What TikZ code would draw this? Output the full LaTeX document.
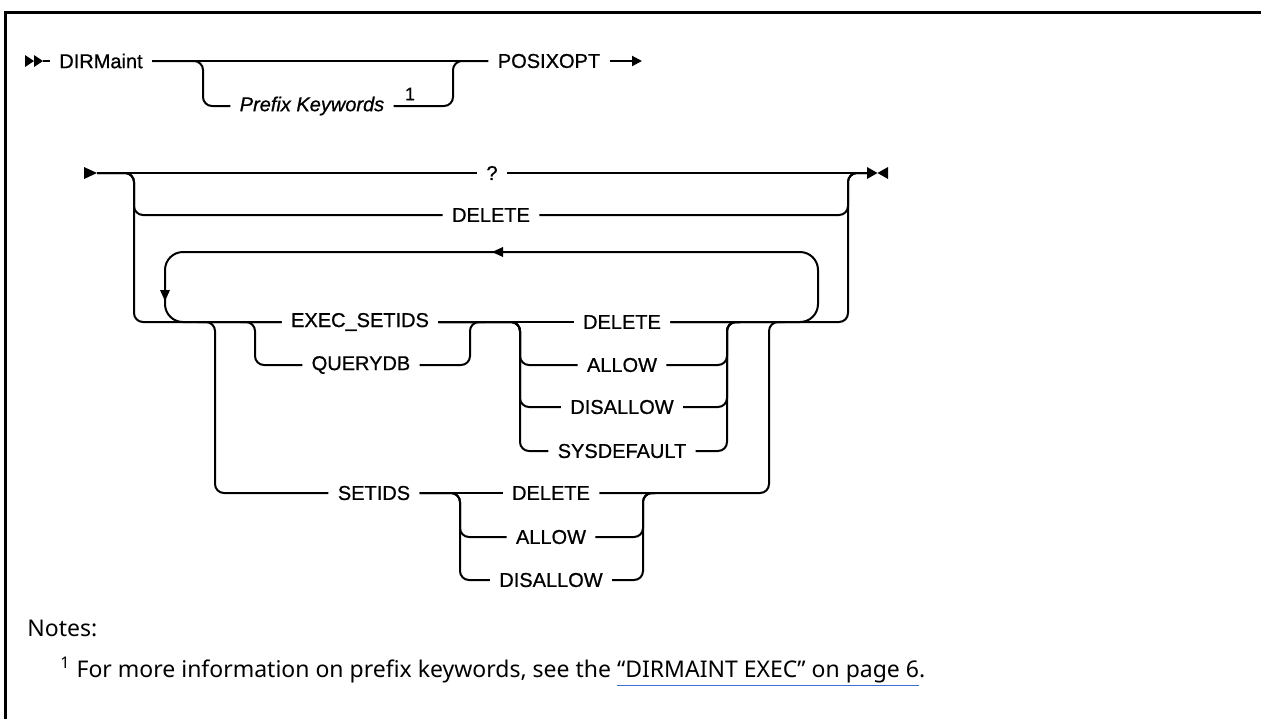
\documentclass[tikz,border=0pt]{standalone}
\usepackage{fontspec}
\setmainfont{Liberation Sans}
\newfontfamily\railfont[FakeBold=0.8]{Liberation Sans}
\newfontfamily\notefont{Noto Sans}
\usepackage{tikz}
\usetikzlibrary{arrows.meta,positioning,calc}
\definecolor{linkblue}{HTML}{3F6FD0}

\begin{document}
\begin{tikzpicture}[
      x=0.5pt, y=-0.5pt,
      font=\railfont\fontsize{10}{12}\selectfont,
      kw/.style={inner xsep=4.5pt, inner ysep=1pt},
      rail/.style={line width=1pt, rounded corners=4.5pt},
      bigloop/.style={line width=1pt, rounded corners=9pt},
      note/.style={anchor=west, inner sep=0pt, font=\notefont\fontsize{11.5}{14}\selectfont},
      >={Triangle[length=5pt,width=5pt]}
    ]
    \useasboundingbox (0,0) rectangle (1261,719);
    % --- frame -------------------------------------------------------------
    \draw[line width=1.5pt] (5,719) -- (5,12) -- (1261,12);

    % --- first line: DIRMaint [Prefix Keywords] POSIXOPT ---------------------
    \fill (25,55) -- (34,61) -- (25,67) -- cycle;
    \fill (34,55) -- (43,61) -- (34,67) -- cycle;
    \coordinate (st1) at (43,61);
    \coordinate (en1) at (642,61);
    \node[kw] (dirm)  at (101,61)  {DIRMaint};
    \node[kw, font=\railfont\fontsize{10}{12}\selectfont\itshape] (pfx) at (312,106) {Prefix Keywords};
    \node[inner sep=0pt, font=\railfont\fontsize{9}{10}\selectfont] (sup1) at (410,94) {1};
    \node[kw] (posix) at (549,61)  {POSIXOPT};
    \draw[rail] (st1) -- (dirm.west);
    \draw[rail] (dirm.east) -- (posix.west);
    \draw[rail] (dirm.east) -| (203,106) -- (pfx.west);
    \draw[rail] (pfx.east) -| (453,61) -- (posix.west);
    \draw[rail, ->] (posix.east) -- (en1);

    % --- second line: start and end marks ----------------------------------
    \fill (84,167) -- (97,173) -- (84,179) -- cycle;
    \fill (867,167) -- (877.5,173) -- (867,179) -- cycle;
    \fill (888,167) -- (877.5,173) -- (888,179) -- cycle;
    \coordinate (st2) at (97,173);
    \coordinate (en2) at (867,173);

    % --- ? and DELETE -------------------------------------------------------
    \node[kw] (qm)  at (492,173) {?};
    \node[kw] (del) at (491,215) {DELETE};
    \draw[rail] (st2) -- (qm.west);
    \draw[rail] (qm.east) -- (en2);
    \draw[rail] (st2) -| (134,215) -- (del.west);
    \draw[rail] (del.east) -| (848,173) -- (en2);

    % --- repeat group --------------------------------------------------------
    \node[kw] (execs)  at (360,322) {EXEC\_SETIDS};
    \node[kw] (qdb)    at (361,365) {QUERYDB};
    \node[kw] (edel)   at (622,322) {DELETE};
    \node[kw] (eallow) at (622,365) {ALLOW};
    \node[kw] (edisal) at (622,407) {DISALLOW};
    \node[kw] (esysdf) at (622,451) {SYSDEFAULT};
    \node[kw] (setids) at (374,493) {SETIDS};
    \node[kw] (sdel)   at (551,493) {DELETE};
    \node[kw] (sallow) at (551,537) {ALLOW};
    \node[kw] (sdisal) at (551,580) {DISALLOW};

    \draw[rail] (st2) -| (134,322) -- (execs.west);
    \draw[rail] (execs.east) -- (edel.west);
    \draw[rail] (edel.east) -| (848,173) -- (en2);

    % loop back
    \draw[bigloop] (edel.east) -| (818,252) -| (165,322) -- (execs.west);
    \fill (492,252) -- (503,247) -- (503,257) -- cycle;
    \fill (165,301) -- (160,290) -- (170,290) -- cycle;

    % EXEC_SETIDS / QUERYDB
    \coordinate (jq) at (240,322);
    \coordinate (mq) at (485,322);
    \draw[rail] (jq) -| (255,365) -- (qdb.west);
    \draw[rail] (qdb.east) -| (470,322) -- (mq);

    % DELETE / ALLOW / DISALLOW / SYSDEFAULT
    \coordinate (me) at (740,322);
    \draw[rail] (execs.east) -| (520,365) -- (eallow.west);
    \draw[rail] (execs.east) -| (520,407) -- (edisal.west);
    \draw[rail] (execs.east) -| (520,451) -- (esysdf.west);
    \draw[rail] (eallow.east) -| (727,322) -- (me);
    \draw[rail] (edisal.east) -| (727,322) -- (me);
    \draw[rail] (esysdf.east) -| (727,322) -- (me);

    % SETIDS
    \coordinate (js) at (198,322);
    \coordinate (ms) at (785,322);
    \coordinate (mr) at (655,493);
    \draw[rail] (js) -| (215,493) -- (setids.west);
    \draw[rail] (setids.east) -- (sdel.west);
    \draw[rail] (setids.east) -| (460,537) -- (sallow.west);
    \draw[rail] (setids.east) -| (460,580) -- (sdisal.west);
    \draw[rail] (sallow.east) -| (643,493) -- (mr);
    \draw[rail] (sdisal.east) -| (643,493) -- (mr);
    \draw[rail] (sdel.east) -| (769,322) -- (ms);

    % --- notes ---------------------------------------------------------------
    \node[note] (notes) at (27,628) {Notes:};
    \node[note] (fnote) at (60,672)
      {\textsuperscript{1} For more information on prefix keywords, see the
       \textcolor{linkblue}{\underline{\textcolor{black}{“DIRMAINT EXEC” on page 6}}}.};
  \end{tikzpicture}
\end{document}
